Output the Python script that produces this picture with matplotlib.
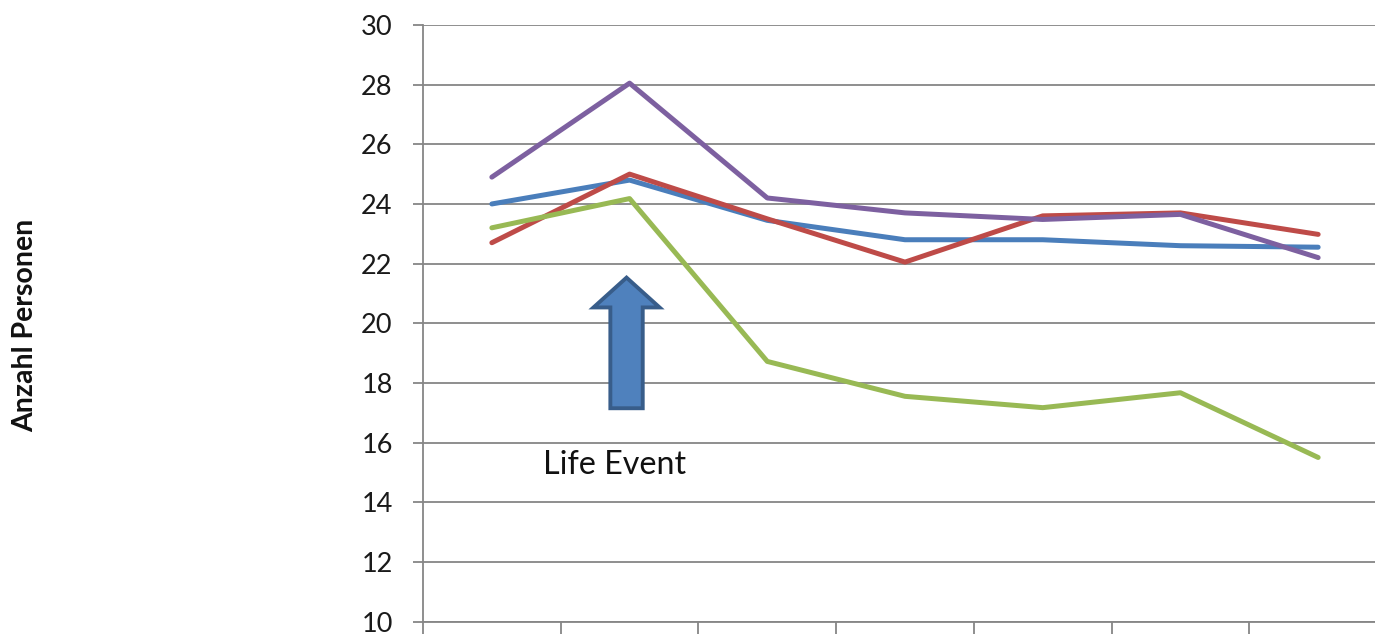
import matplotlib
matplotlib.use("Agg")
import matplotlib.pyplot as plt
from matplotlib.patches import FancyArrow
import numpy as np

categories = ["1", "2", "3", "4", "5", "6", "7"]
blue = [24.0, 24.8, 23.45, 22.8, 22.8, 22.6, 22.55]
red = [22.7, 25.0, 23.5, 22.05, 23.6, 23.7, 22.98]
purple = [24.9, 28.05, 24.2, 23.7, 23.48, 23.65, 22.2]
green = [23.2, 24.18, 18.72, 17.55, 17.17, 17.67, 15.5]
series_colors = ["#4A7EBB", "#BE4B48", "#7D60A0", "#98B954"]
yticks = [10, 12, 14, 16, 18, 20, 22, 24, 26, 28, 30]

W, H = 1375, 634
fig = plt.figure(figsize=(W / 100, H / 100), dpi=100)
ax = fig.add_axes([423 / W, (H - 621.5) / H, (1387 - 423) / W, (621.5 - 25) / H])

x = np.arange(len(categories))
grid_c = "#868686"
for vals, c in zip([blue, red, purple, green], series_colors):
    ax.plot(x, vals, color=c, lw=3.6, solid_capstyle="round",
            solid_joinstyle="round", zorder=3)

ax.set_xlim(-0.5, len(categories) - 0.5)
ax.set_ylim(10, 30)
ax.set_yticks(yticks)
ax.set_yticklabels([str(t) for t in yticks], fontsize=19.5, family="Lato", color="#1a1a1a")
ax.set_xticks(np.arange(len(categories) + 1) - 0.5)
ax.set_xticklabels([])
ax.yaxis.grid(True, color=grid_c, lw=1.3)
ax.set_axisbelow(True)
ax.tick_params(axis="y", length=7.4, width=1.3, color=grid_c, pad=14.4)
ax.tick_params(axis="x", length=10, width=1.3, color=grid_c)
for s in ["top", "right"]:
    ax.spines[s].set_visible(False)
for s in ["left", "bottom"]:
    ax.spines[s].set_color(grid_c)
    ax.spines[s].set_linewidth(1.3)

# Life Event arrow
arr = FancyArrow(0.978, 17.15, 0, 4.38, width=0.235, head_width=0.48,
                 head_length=1.0, length_includes_head=True,
                 facecolor="#4F81BD", edgecolor="#385D8A", lw=2.8, zorder=4)
ax.add_patch(arr)
ax.text(0.89, 15.25, "Life Event", fontsize=23.2, family="Lato", ha="center",
        va="center", color="#111111")

fig.text(25 / W, 1 - 325 / H, "Anzahl Personen", rotation=90, fontsize=20.5,
         family="Lato", fontweight="bold", ha="center", va="center", color="#111111")

fig.savefig("out.png", dpi=100)
